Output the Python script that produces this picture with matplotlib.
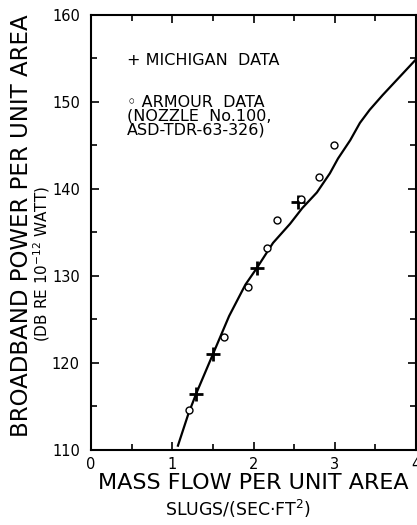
import matplotlib
matplotlib.use("Agg")
import matplotlib.pyplot as plt
from matplotlib.ticker import MultipleLocator

# Michigan data (+)
michigan_x = [1.29, 1.50, 2.04, 2.55]
michigan_y = [116.4, 121.0, 130.9, 138.5]

# Armour data (o), nozzle No. 100
armour_x = [1.21, 1.64, 1.93, 2.16, 2.29, 2.59, 2.80, 2.99]
armour_y = [114.6, 123.0, 128.7, 133.2, 136.4, 138.9, 141.4, 145.1]

# faired curve
curve_x = [1.07, 1.20, 1.30, 1.50, 1.70, 1.90, 2.04, 2.24, 2.45, 2.60,
           2.78, 2.94, 3.04, 3.19, 3.31, 3.43, 3.59, 3.80, 3.99]
curve_y = [110.5, 114.2, 116.6, 121.0, 125.4, 129.0, 130.9, 133.8, 136.0, 137.8,
           139.6, 141.8, 143.5, 145.6, 147.6, 149.1, 150.8, 152.9, 154.8]

plt.rcParams["font.family"] = ["DejaVu Sans"]

fig = plt.figure(figsize=(4.17, 5.25), dpi=100)
ax = fig.add_axes([91 / 417, 1 - 450 / 525, 325 / 417, 435 / 525])

ax.plot(curve_x, curve_y, color="black", linewidth=1.6)
ax.plot(michigan_x, michigan_y, linestyle="none", marker="+", markersize=10,
        markeredgewidth=2.0, color="black")
ax.plot(armour_x, armour_y, linestyle="none", marker="o", markersize=5,
        markerfacecolor="white", markeredgecolor="black", markeredgewidth=1.0)

ax.set_xlim(0, 4)
ax.set_ylim(110, 160)
ax.xaxis.set_major_locator(MultipleLocator(1))
ax.xaxis.set_minor_locator(MultipleLocator(0.5))
ax.yaxis.set_major_locator(MultipleLocator(10))
ax.yaxis.set_minor_locator(MultipleLocator(5))
ax.tick_params(which="both", direction="in", top=True, right=True, width=1.2)
ax.tick_params(which="major", length=6, labelsize=10.5)
ax.tick_params(axis="y", which="major", pad=8)
ax.tick_params(axis="x", which="major", pad=5)
ax.tick_params(which="minor", length=4)
for s in ax.spines.values():
    s.set_linewidth(1.5)

# legend written as text, as in the original
ax.text(0.44, 154.8, "+ MICHIGAN  DATA", fontsize=11.5, va="center", ha="left")
ax.text(0.44, 148.4, "◦ ARMOUR  DATA\n(NOZZLE  No.100,\nASD-TDR-63-326)",
        fontsize=11.5, va="center", ha="left", linespacing=0.9)

fig.text(22 / 417, 1 - 226 / 525, "BROADBAND POWER PER UNIT AREA",
         rotation=90, fontsize=16.5, ha="center", va="center")
fig.text(42 / 417, 1 - 264 / 525, "(DB RE 10$^{-12}$ WATT)",
         rotation=90, fontsize=11, ha="center", va="center")
fig.text(253 / 417, 1 - 483 / 525, "MASS FLOW PER UNIT AREA",
         fontsize=16, ha="center", va="center")
fig.text(238 / 417, 1 - 509 / 525, "SLUGS/(SEC·FT$^2$)",
         fontsize=12.5, ha="center", va="center")

fig.savefig("out.png", dpi=100)
plt.close(fig)
